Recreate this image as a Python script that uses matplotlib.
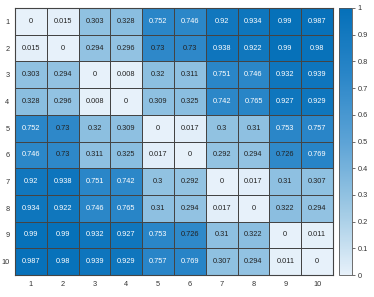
import matplotlib
matplotlib.use('Agg')
import matplotlib.pyplot as plt
import numpy as np
from matplotlib.colors import LinearSegmentedColormap

plt.rcParams['font.family'] = ['Liberation Sans', 'DejaVu Sans']

labels = ['1', '2', '3', '4', '5', '6', '7', '8', '9', '10']

# ma trận khoảng cách
dist = np.array([
    [0, 0.015, 0.303, 0.328, 0.752, 0.746, 0.92, 0.934, 0.99, 0.987],
    [0.015, 0, 0.294, 0.296, 0.73, 0.73, 0.938, 0.922, 0.99, 0.98],
    [0.303, 0.294, 0, 0.008, 0.32, 0.311, 0.751, 0.746, 0.932, 0.939],
    [0.328, 0.296, 0.008, 0, 0.309, 0.325, 0.742, 0.765, 0.927, 0.929],
    [0.752, 0.73, 0.32, 0.309, 0, 0.017, 0.3, 0.31, 0.753, 0.757],
    [0.746, 0.73, 0.311, 0.325, 0.017, 0, 0.292, 0.294, 0.726, 0.769],
    [0.92, 0.938, 0.751, 0.742, 0.3, 0.292, 0, 0.017, 0.31, 0.307],
    [0.934, 0.922, 0.746, 0.765, 0.31, 0.294, 0.017, 0, 0.322, 0.294],
    [0.99, 0.99, 0.932, 0.927, 0.753, 0.726, 0.31, 0.322, 0, 0.011],
    [0.987, 0.98, 0.939, 0.929, 0.757, 0.769, 0.307, 0.294, 0.011, 0],
])

cmap = LinearSegmentedColormap.from_list(
    'blues', ['#e7f1fa', '#9ec9e4', '#5ca3d6', '#2a86c8', '#0570b9'])

fig = plt.figure(figsize=(3.74, 2.97), dpi=100)
ax = fig.add_axes([15 / 374, 22 / 297, 318 / 374, 267 / 297])
cax = fig.add_axes([339 / 374, 22 / 297, 13 / 374, 267 / 297])

n = len(labels)
mesh = ax.pcolormesh(np.arange(n + 1), np.arange(n + 1), dist, cmap=cmap,
                     vmin=0, vmax=1, edgecolor='#444444', linewidth=0.7)
ax.set_xlim(0, n)
ax.set_ylim(n, 0)

for i in range(n):
    for j in range(n):
        v = dist[i, j]
        ax.text(j + 0.5, i + 0.5, f'{v:g}', ha='center', va='center',
                fontsize=5.3, color='white' if v > 0.735 else '#222222')

ax.set_xticks(np.arange(n) + 0.5)
ax.set_xticklabels(labels)
ax.set_yticks(np.arange(n) + 0.5)
ax.set_yticklabels(labels)
ax.tick_params(length=0, labelsize=5.3, colors='#333333', pad=4)
for s in ax.spines.values():
    s.set_color('#444444')
    s.set_linewidth(0.8)

cb = fig.colorbar(mesh, cax=cax, ticks=np.arange(0, 1.01, 0.1))
cb.ax.set_yticklabels(['0', '0.1', '0.2', '0.3', '0.4', '0.5', '0.6', '0.7', '0.8', '0.9', '1'])
cb.ax.tick_params(labelsize=5.3, length=2.5, width=0.5, colors='#333333', pad=1.5)
cb.outline.set_edgecolor('#555555')
cb.outline.set_linewidth(0.6)

fig.savefig('out.png', dpi=100)
